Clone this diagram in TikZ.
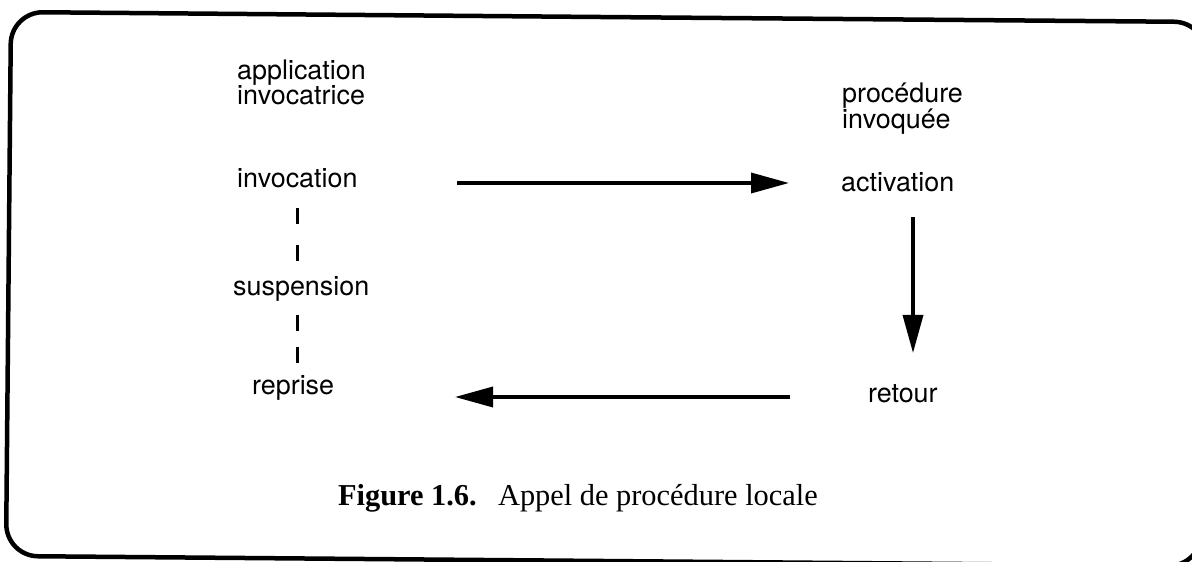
\documentclass[tikz,border=0pt]{standalone}
\usepackage{fontspec}
\setmainfont{Liberation Serif}
\setsansfont{TeX Gyre Heros}
\usetikzlibrary{arrows.meta}
\begin{document}
\begin{tikzpicture}[x=1bp,y=-1bp,
  lbl/.style={font=\sffamily\fontsize{27}{27}\selectfont, inner sep=0pt, anchor=base west},
  lbltwo/.style={font=\sffamily\fontsize{27}{23.5}\selectfont, inner sep=0pt, align=left, anchor=base west},
  arr/.style={line width=3.5bp, -{Triangle[length=38bp,width=20bp]}},
  frame/.style={line width=4.5bp, rounded corners=32bp},
  dashA/.style={line width=3bp, dash pattern=on 16bp off 21bp},
  dashB/.style={line width=3bp, dash pattern=on 16bp off 16bp}]
\useasboundingbox (0,0) rectangle (1192,562);
\draw[frame] (600,17) -- (1206,22) -- (1201,566) -- (6,556) -- (11,12) -- cycle;

% left column
\node[lbltwo] (app) at (237,105) {application\\invocatrice};
\node[lbl] (inv) at (237,188) {invocation};
\node[lbl] (sus) at (233,296) {suspension};
\node[lbl] (rep) at (252,394) {reprise};

% right column
\node[lbltwo] (proc) at (842,129) {procédure\\invoquée};
\node[lbl] (act) at (841,192) {activation};
\node[lbl] (ret) at (868,402) {retour};

% caption
\node[font=\rmfamily\fontsize{30.5}{30}\selectfont, inner sep=0pt, anchor=base east] (cap) at (818,505)
  {\textbf{Figure 1.6.}\hspace{0.7em}Appel de procédure locale};

% dashed waiting line
\coordinate (d1) at (297,208);
\coordinate (d2) at (297,262);
\coordinate (d3) at (297,315);
\coordinate (d4) at (297,363);
\draw[dashA] (d1) -- (d2);
\draw[dashB] (d3) -- (d4);

% arrows
\coordinate (a1) at (457,183);
\coordinate (a2) at (789,183);
\coordinate (b1) at (913,217);
\coordinate (b2) at (913,353);
\coordinate (c1) at (790,397);
\coordinate (c2) at (455,397);
\draw[arr] (a1) -- (a2);
\draw[arr] (b1) -- (b2);
\draw[arr] (c1) -- (c2);
\end{tikzpicture}
\end{document}
